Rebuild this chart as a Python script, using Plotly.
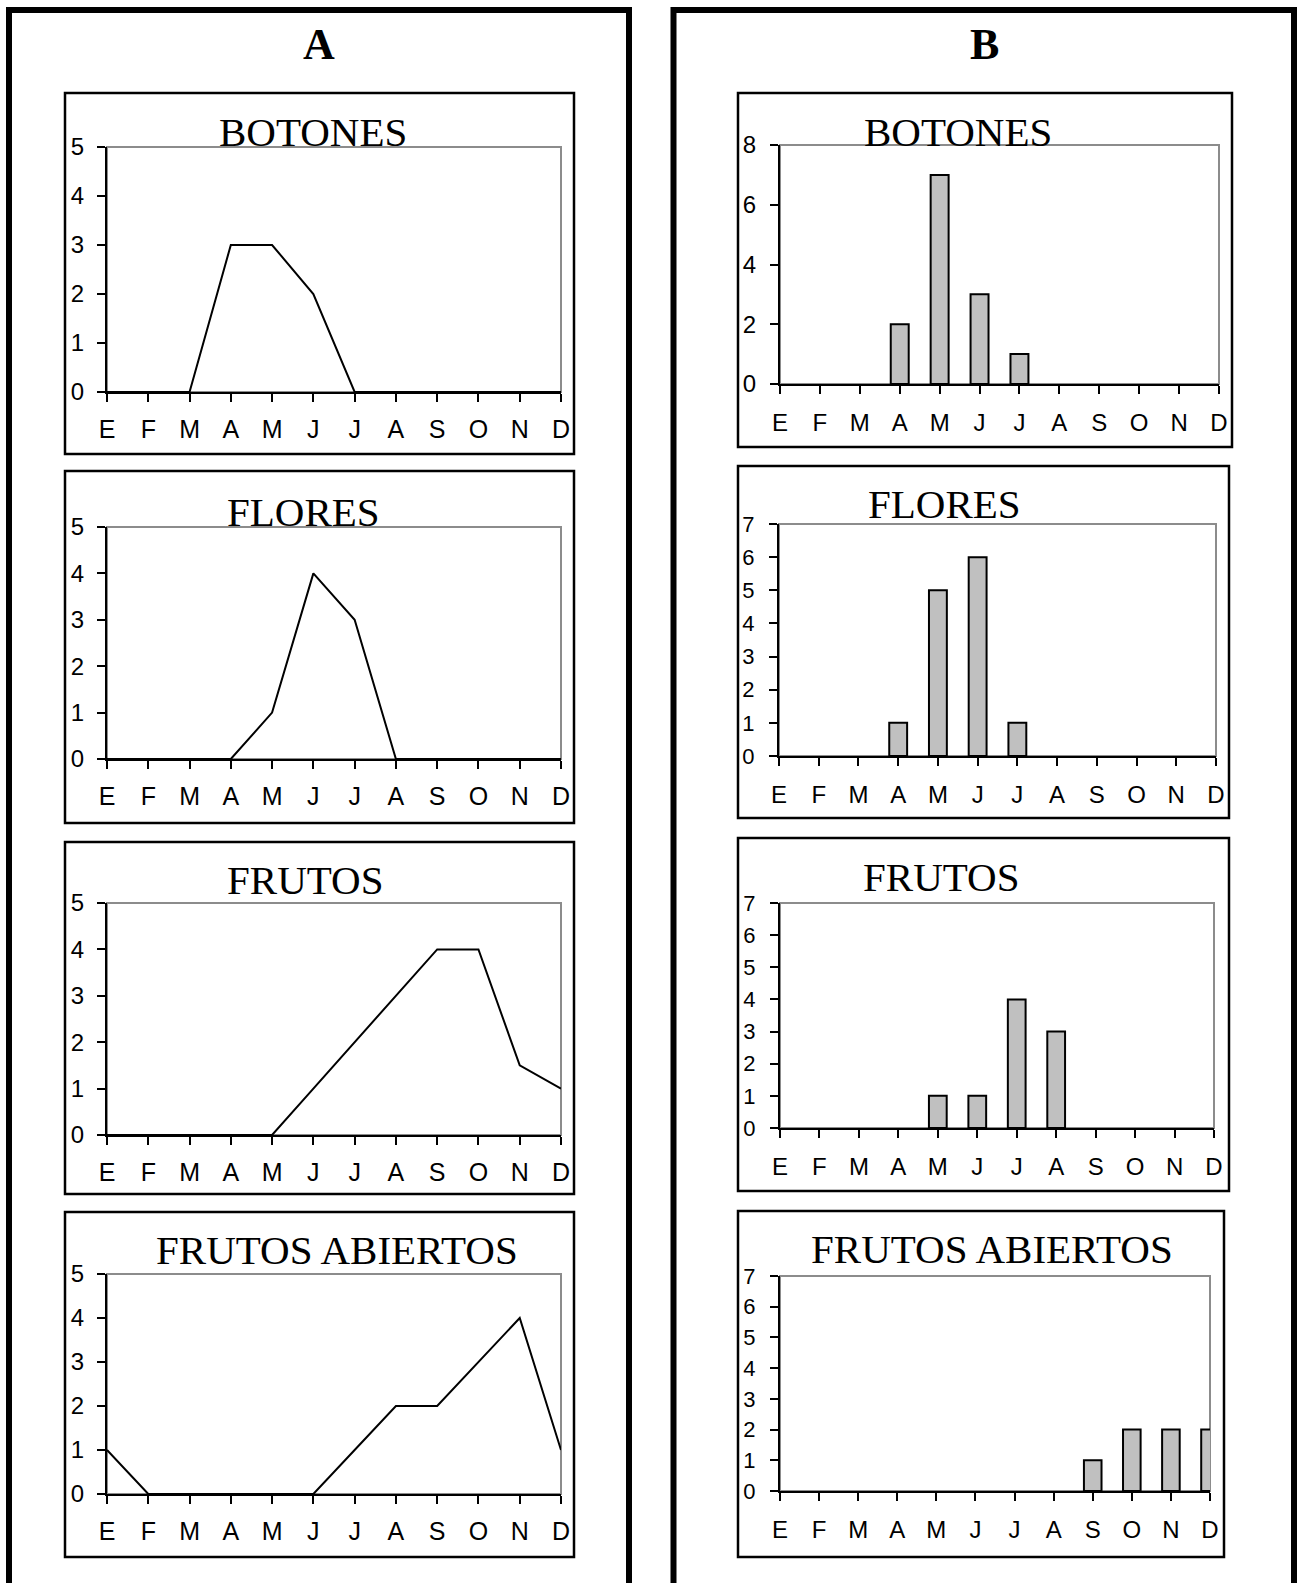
import plotly.graph_objects as go

W, H = 1297, 1583

months = ["E", "F", "M", "A", "M", "J", "J", "A", "S", "O", "N", "D"]
month_idx = list(range(12))

# Panel A (line charts)
a_botones = [0, 0, 0, 3, 3, 2, 0, 0, 0, 0, 0, 0]
a_flores = [0, 0, 0, 0, 1, 4, 3, 0, 0, 0, 0, 0]
a_frutos = [0, 0, 0, 0, 0, 1, 2, 3, 4, 4, 1.5, 1]
a_abiertos = [1, 0, 0, 0, 0, 0, 1, 2, 2, 3, 4, 1]

# Panel B (bar charts)
b_botones = [0, 0, 0, 2, 7, 3, 1, 0, 0, 0, 0, 0]
b_flores = [0, 0, 0, 1, 5, 6, 1, 0, 0, 0, 0, 0]
b_frutos = [0, 0, 0, 0, 1, 1, 4, 3, 0, 0, 0, 0]
b_abiertos = [0, 0, 0, 0, 0, 0, 0, 0, 1, 2, 2, 2]

titles = ["BOTONES", "FLORES", "FRUTOS", "FRUTOS ABIERTOS"]

# layout (pixels): frame box, plot box, title center, y max, y step, tick font sizes, standoffs
panels = [
    # panel A
    dict(kind="line", data=a_botones, frame=(65, 93, 574, 454), plot=(107, 147, 561, 392), tc=(313, 132), ymax=5, dt=1, fx=25, fy=24, sx=6, sy=8),
    dict(kind="line", data=a_flores, frame=(65, 471, 574, 823), plot=(107, 527, 561, 759), tc=(303, 512), ymax=5, dt=1, fx=25, fy=24, sx=6, sy=8),
    dict(kind="line", data=a_frutos, frame=(65, 842, 574, 1194), plot=(107, 903, 561, 1135), tc=(305, 880), ymax=5, dt=1, fx=25, fy=24, sx=6, sy=8),
    dict(kind="line", data=a_abiertos, frame=(65, 1212, 574, 1557), plot=(107, 1274, 561, 1494), tc=(337, 1250), ymax=5, dt=1, fx=25, fy=24, sx=6, sy=8),
    # panel B
    dict(kind="bar", data=b_botones, frame=(738, 93, 1232, 447), plot=(780, 145, 1219, 384), tc=(958, 132), ymax=8, dt=2, fx=24, fy=24, sx=8, sy=9),
    dict(kind="bar", data=b_flores, frame=(738, 466, 1229, 818), plot=(779, 524, 1216, 756), tc=(944, 504), ymax=7, dt=1, fx=24, fy=22, sx=8, sy=10),
    dict(kind="bar", data=b_frutos, frame=(738, 838, 1229, 1191), plot=(780, 903, 1214, 1128), tc=(941, 877), ymax=7, dt=1, fx=24, fy=22, sx=8, sy=10),
    dict(kind="bar", data=b_abiertos, frame=(738, 1211, 1224, 1557), plot=(780, 1276, 1210, 1491), tc=(992, 1249), ymax=7, dt=1, fx=24, fy=22, sx=8, sy=10),
]

fig = go.Figure()
shapes = []
annotations = []
layout = {}

def px_x(x):
    return x / W

def px_y(y):
    return 1 - y / H

SANS = "Liberation Sans, Arial, sans-serif"
SERIF = "Liberation Serif, Times New Roman, serif"

for i, p in enumerate(panels):
    n = i + 1
    xa = "xaxis" if n == 1 else f"xaxis{n}"
    ya = "yaxis" if n == 1 else f"yaxis{n}"
    xr = "x" if n == 1 else f"x{n}"
    yr = "y" if n == 1 else f"y{n}"
    x0, y0, x1, y1 = p["plot"]
    layout[xa] = dict(
        domain=[px_x(x0), px_x(x1)], anchor=yr, range=[0, 11],
        tickmode="array", tickvals=month_idx, ticktext=months,
        showline=True, linecolor="black", linewidth=2,
        ticks="outside", ticklen=8, tickwidth=2, tickcolor="black",
        showgrid=False, zeroline=False,
        tickfont=dict(family=SANS, size=p["fx"], color="black"),
        ticklabelstandoff=p["sx"], fixedrange=True, automargin=False,
    )
    layout[ya] = dict(
        domain=[px_y(y1), px_y(y0)], anchor=xr, range=[0, p["ymax"]],
        tickmode="linear", tick0=0, dtick=p["dt"],
        showline=True, linecolor="black", linewidth=2,
        ticks="outside", ticklen=8, tickwidth=2, tickcolor="black",
        showgrid=False, zeroline=False,
        tickfont=dict(family=SANS, size=p["fy"], color="black"),
        ticklabelstandoff=p["sy"], fixedrange=True, automargin=False,
    )
    if p["kind"] == "line":
        fig.add_trace(go.Scatter(
            x=month_idx, y=p["data"], mode="lines", xaxis=xr, yaxis=yr,
            line=dict(color="black", width=2), showlegend=False, cliponaxis=False,
        ))
    else:
        fig.add_trace(go.Bar(
            x=month_idx, y=[v if v else None for v in p["data"]], xaxis=xr, yaxis=yr,
            width=0.45, marker=dict(color="#c0c0c0", line=dict(color="black", width=2)),
            showlegend=False,
        ))
    # gray plot-area border (top/right)
    shapes.append(dict(type="rect", xref=f"{xr} domain", yref=f"{yr} domain",
                       x0=0, x1=1, y0=0, y1=1, line=dict(color="#8c8c8c", width=2), layer="below"))
    # chart frame
    fx0, fy0, fx1, fy1 = p["frame"]
    shapes.append(dict(type="rect", xref="paper", yref="paper",
                       x0=px_x(fx0), x1=px_x(fx1), y0=px_y(fy1), y1=px_y(fy0),
                       line=dict(color="black", width=2.5)))
    annotations.append(dict(
        text=titles[i % 4], xref="paper", yref="paper",
        x=px_x(p["tc"][0]), y=px_y(p["tc"][1]), xanchor="center", yanchor="middle",
        showarrow=False,
        font=dict(family=SERIF, size=41, color="black"),
    ))

# outer panel borders
for (ox0, ox1) in [(9, 629), (673.5, 1294)]:
    shapes.append(dict(type="rect", xref="paper", yref="paper",
                       x0=px_x(ox0), x1=px_x(ox1), y0=px_y(1600), y1=px_y(10),
                       line=dict(color="black", width=6)))

for label, cx in [("A", 319), ("B", 984)]:
    annotations.append(dict(
        text=f"<b>{label}</b>", xref="paper", yref="paper",
        x=px_x(cx), y=px_y(45), xanchor="center", yanchor="middle", showarrow=False,
        font=dict(family=SERIF, size=44, color="black"),
    ))

fig.update_layout(
    width=W, height=H, autosize=False,
    margin=dict(l=0, r=0, t=0, b=0, pad=0),
    paper_bgcolor="white", plot_bgcolor="white",
    shapes=shapes, annotations=annotations, showlegend=False,
    **layout,
)

fig.write_html(
    "out.html",
    config={"responsive": False, "displayModeBar": False},
    post_script="document.body.style.margin='0';document.body.style.overflow='hidden';",
)
